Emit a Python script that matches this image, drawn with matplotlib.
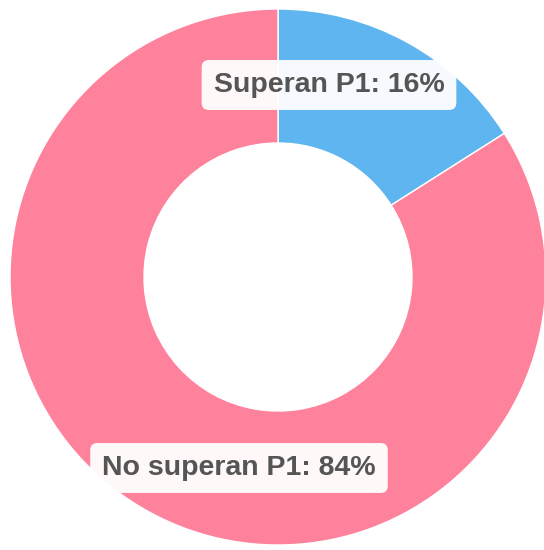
import matplotlib.pyplot as plt

labels = ['Superan P1', 'No superan P1']
values = [16, 84]
colors = ['#5eb5ef', '#ff829d']

fig = plt.figure(figsize=(5.44, 5.50), dpi=100)
ax = fig.add_axes([0, 0, 1, 1])

ax.pie(values, colors=colors, startangle=90, counterclock=False,
       center=(278, 273), radius=268, frame=True,
       wedgeprops=dict(width=134, edgecolor='white', linewidth=1))
ax.set_xlim(0, 544)
ax.set_ylim(0, 550)
ax.set_aspect('equal')
ax.axis('off')

# label positions (pixel coords)
label_pos = [(329, 550 - 85), (239, 550 - 468)]
for lab, v, (x, y) in zip(labels, values, label_pos):
    ax.text(x, y, f'{lab}: {v}%', ha='center', va='center',
            fontsize=20.5, fontweight='bold', color='#555555',
            family=['Liberation Sans', 'DejaVu Sans'],
            bbox=dict(boxstyle='round,pad=0.42,rounding_size=0.25',
                      facecolor='white', edgecolor='none', alpha=0.95))

fig.savefig('out.png', dpi=100)
